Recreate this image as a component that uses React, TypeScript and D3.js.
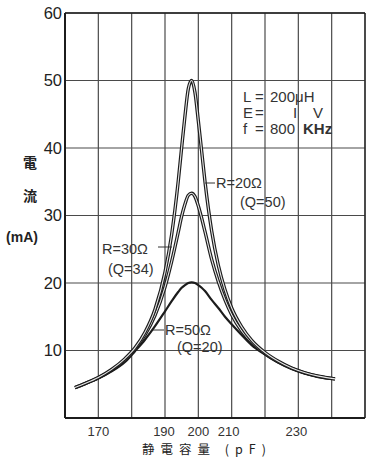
import React from "react";
import * as d3 from "d3";

const capacitance = [163,166,170,174,178,181,184,187,190,192,194,195,196,197,198,199,200,201,202,204,206,208,210,213,216,220,224,228,232,236,241];
const currentR20 = [4.5,5.1,6.0,7.2,8.8,10.4,12.7,16.1,21.6,27.2,35.2,40.1,44.8,48.8,50.0,48.2,44.0,39.5,35.0,27.7,22.6,19.0,16.3,13.5,11.5,9.7,8.4,7.4,6.7,6.2,5.8];
const currentR30 = [4.5,5.1,5.95,7.1,8.6,10.2,12.3,15.2,19.4,23.2,27.6,29.9,31.7,33.0,33.3,32.8,31.4,29.6,27.6,23.5,20.2,17.5,15.3,12.9,11.2,9.55,8.3,7.35,6.65,6.15,5.8];
const currentR50 = [4.5,5.05,5.85,6.9,8.3,9.9,11.6,13.6,15.8,17.3,18.7,19.3,19.7,20.0,20.1,20.0,19.7,19.3,18.8,17.5,16.3,15.0,13.9,12.3,10.8,9.4,8.2,7.3,6.6,6.1,5.75];

const xTicks = [170, 190, 200, 210, 230];
const xGrid = [160,170,180,190,200,210,220,230,240,250];
const yTicks = [10, 20, 30, 40, 50, 60];

export default function App() {
  const x = d3.scaleLinear().domain([160, 250]).range([65, 365]);
  const y = d3.scaleLinear().domain([0, 60]).range([418, 13]);
  const line = (vals: number[]) =>
    d3.line<number>()
      .x((_, i) => x(capacitance[i]))
      .y((v) => y(v))
      .curve(d3.curveMonotoneX)(vals) || "";
  const font = "'Liberation Sans', Arial, sans-serif";
  const cjk = "'Noto Sans CJK JP', sans-serif";
  const ink = "#1c1c1c";
  const xOffset: Record<number, number> = { 170: 0, 190: -1, 200: 0, 210: -3, 230: -2 };
  return (
    <svg width={378} height={457} style={{ position: "absolute", left: 0, top: 0, background: "#fff" }}>
      <rect width={378} height={457} fill="#fff" />
      {xGrid.map((g) => (
        <line key={"vx" + g} x1={x(g)} x2={x(g)} y1={y(60)} y2={y(0)} stroke="#4a4a4a" strokeWidth={1.2} />
      ))}
      {yTicks.map((t) => (
        <line key={"hy" + t} x1={x(160)} x2={x(250)} y1={y(t)} y2={y(t)} stroke="#4a4a4a" strokeWidth={1.2} />
      ))}
      <line x1={x(160)} x2={x(160)} y1={y(60)} y2={y(0)} stroke={ink} strokeWidth={2} />
      <line x1={x(160)} x2={x(250)} y1={y(0)} y2={y(0)} stroke={ink} strokeWidth={2} />
      <line x1={x(160)} x2={x(250)} y1={y(60)} y2={y(60)} stroke={ink} strokeWidth={1.5} />
      <line x1={x(250)} x2={x(250)} y1={y(60)} y2={y(0)} stroke={ink} strokeWidth={1.2} />

      <path d={line(currentR50)} fill="none" stroke={ink} strokeWidth={2.2} />
      <path d={line(currentR30)} fill="none" stroke={ink} strokeWidth={3.4} />
      <path d={line(currentR30)} fill="none" stroke="#e6e6e6" strokeWidth={1.1} />
      <path d={line(currentR20)} fill="none" stroke={ink} strokeWidth={3.4} />
      <path d={line(currentR20)} fill="none" stroke="#e6e6e6" strokeWidth={1.1} />

      {yTicks.map((t) => (
        <text key={"yt" + t} x={62} y={y(t)} dy="0.36em" textAnchor="end" fontFamily={font} fontSize={16.5} fill="#222">{t}</text>
      ))}
      {xTicks.map((t) => (
        <text key={"xt" + t} x={x(t) + xOffset[t]} y={435.5} textAnchor="middle" fontFamily={font} fontSize={13} fill="#333">{t}</text>
      ))}
      <text x={207} y={454} textAnchor="middle" fontFamily={cjk} fontSize={12.5} fill="#222" letterSpacing={6}>静電容量 (pF)</text>

      <text x={30} y={163} dy="0.35em" textAnchor="middle" fontFamily={cjk} fontSize={14} fontWeight="bold" fill="#222">電</text>
      <text x={30} y={196} dy="0.35em" textAnchor="middle" fontFamily={cjk} fontSize={14} fontWeight="bold" fill="#222">流</text>
      <text x={22} y={237} dy="0.35em" textAnchor="middle" fontFamily={font} fontSize={14} fontWeight={600} fill="#222">(mA)</text>

      <g fontFamily={font} fontSize={15} fill="#333">
        <text x={243} y={102}>L</text>
        <text x={255} y={102}>=</text>
        <text x={270} y={102}>200μH</text>
        <text x={243} y={118}>E</text>
        <text x={255} y={118}>=</text>
        <text x={293} y={118}>I</text>
        <text x={313} y={118}>V</text>
        <text x={243} y={134}>f</text>
        <text x={255} y={134}>=</text>
        <text x={270} y={134}>800</text>
        <text x={303} y={134} fontWeight={600}>KHz</text>
      </g>

      <g fontFamily={font} fontSize={14.5} fill="#333">
        <line x1={205} x2={215} y1={183} y2={183} stroke="#333" strokeWidth={1} />
        <text x={216} y={183} dy="0.36em">R=20Ω</text>
        <text x={240} y={202} dy="0.36em">(Q=50)</text>
        <text x={102} y={249} dy="0.36em">R=30Ω</text>
        <line x1={158} x2={172} y1={247} y2={247} stroke="#333" strokeWidth={1} />
        <text x={108} y={269} dy="0.36em">(Q=34)</text>
        <line x1={153} x2={164} y1={330} y2={330} stroke="#333" strokeWidth={1} />
        <text x={165} y={330} dy="0.36em">R=50Ω</text>
        <text x={177} y={347} dy="0.36em">(Q=20)</text>
      </g>
    </svg>
  );
}
